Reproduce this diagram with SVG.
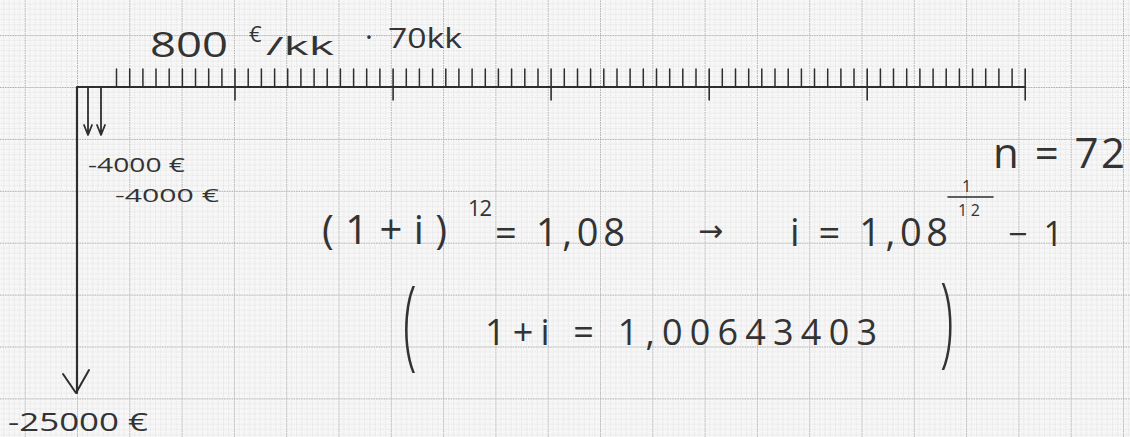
<svg xmlns="http://www.w3.org/2000/svg" width="1130" height="437" viewBox="0 0 1130 437">
  <defs>
    <pattern id="grid" patternUnits="userSpaceOnUse" x="24.7" y="35.1" width="52.3" height="51.9">
      <path d="M5.23 0V51.9M10.46 0V51.9M15.69 0V51.9M20.92 0V51.9M26.15 0V51.9M31.38 0V51.9M36.61 0V51.9M41.84 0V51.9M47.07 0V51.9M0 5.19H52.3M0 10.38H52.3M0 15.57H52.3M0 20.76H52.3M0 25.95H52.3M0 31.14H52.3M0 36.33H52.3M0 41.52H52.3M0 46.71H52.3" stroke="#d4d4d4" stroke-width="0.7" stroke-dasharray="1.2 1.4" fill="none"/>
      <path d="M0.4 0V51.9M0 0.4H52.3" stroke="#a8a8a8" stroke-width="1" stroke-dasharray="1.5 1" fill="none"/>
    </pattern>
  </defs>
  <style>
    .ink { stroke: #2e2e2e; fill: none; stroke-linecap: round; stroke-linejoin: round; }
    .hw { font-family: "Open Sans", "DejaVu Sans", sans-serif; fill: #333; font-weight: 400; }
    .paren { font-family: "Open Sans", "DejaVu Sans", sans-serif; font-weight: 300; fill: #333; }
  </style>
  <rect width="1130" height="437" fill="#f7f7f7"/>
  <rect width="1130" height="437" fill="url(#grid)"/>

  <g id="timeline">
    <path class="ink" stroke-width="2.2" d="M77 87H1025M77 87V393"/>
    <path class="ink" stroke-width="2" d="M63 374L76 393L89 370"/>
    <path class="ink" stroke-width="1.5" d="M116.5 69V86M129.7 69V86M142.9 69V86M156 69V86M169.2 69V86M182.4 69V86M195.5 69V86M208.7 69V86M221.9 69V86M248.2 69V86M261.4 69V86M274.6 69V86M287.7 69V86M300.9 69V86M314.1 69V86M327.2 69V86M340.4 69V86M353.6 69V86M366.7 69V86M379.9 69V86M406.3 69V86M419.4 69V86M432.6 69V86M445.8 69V86M458.9 69V86M472.1 69V86M485.3 69V86M498.4 69V86M511.6 69V86M524.8 69V86M538 69V86M564.3 69V86M577.5 69V86M590.6 69V86M603.8 69V86M617 69V86M630.1 69V86M643.3 69V86M656.5 69V86M669.7 69V86M682.8 69V86M696 69V86M722.3 69V86M735.5 69V86M748.7 69V86M761.8 69V86M775 69V86M788.2 69V86M801.4 69V86M814.5 69V86M827.7 69V86M840.9 69V86M854 69V86M880.4 69V86M893.5 69V86M906.7 69V86M919.9 69V86M933.1 69V86M946.2 69V86M959.4 69V86M972.6 69V86M985.7 69V86M998.9 69V86M1012.1 69V86"/>
    <path class="ink" stroke-width="1.6" d="M235 69V100M393.1 69V100M551.1 69V100M709.2 69V100M867.2 69V100M1025.2 69V100"/>
  </g>

  <g id="payments">
    <path class="ink" stroke-width="1.8" d="M88 87V134M84 125L88 135L92 125M101 87V134M97 125L101 135L105 125"/>
  </g>

  <g id="labels">
    <text class="hw" x="150" y="57" font-size="34" textLength="78" lengthAdjust="spacingAndGlyphs">800</text>
    <text class="hw" x="249" y="42" font-size="22">€</text>
    <text class="hw" x="266" y="55" font-size="26" textLength="68" lengthAdjust="spacingAndGlyphs">/kk</text>
    <text class="hw" x="365" y="47" font-size="30">·</text>
    <text class="hw" x="388" y="48" font-size="28" textLength="74" lengthAdjust="spacingAndGlyphs">70kk</text>

    <text class="hw" x="88" y="172" font-size="20" textLength="97" lengthAdjust="spacingAndGlyphs">-4000 €</text>
    <text class="hw" x="115" y="202" font-size="19" textLength="104" lengthAdjust="spacingAndGlyphs">-4000 €</text>
    <text class="hw" x="8" y="431" font-size="26" textLength="140" lengthAdjust="spacingAndGlyphs">-25000 €</text>

    <text class="hw" x="993" y="168" font-size="42" textLength="132" lengthAdjust="spacing">n = 72</text>

    <text class="hw" x="322" y="244" font-size="40" textLength="125" lengthAdjust="spacing">(1+i)</text>
    <text class="hw" x="468" y="216" font-size="22" textLength="24" lengthAdjust="spacing">12</text>
    <text class="hw" x="495" y="246" font-size="38" textLength="130" lengthAdjust="spacing">= 1,08</text>
    <text class="hw" x="698" y="241" font-size="30">→</text>
    <text class="hw" x="790" y="246" font-size="38" textLength="158" lengthAdjust="spacing">i = 1,08</text>
    <text class="hw" x="962" y="192" font-size="16">1</text>
    <path class="ink" stroke-width="1.6" d="M948 197H993"/>
    <text class="hw" x="958" y="216" font-size="16" textLength="22" lengthAdjust="spacing">12</text>
    <text class="hw" x="1008" y="246" font-size="34" textLength="55" lengthAdjust="spacing">− 1</text>

    <text class="paren" font-size="100" transform="translate(403 357) scale(0.5 1)">(</text>
    <text class="hw" x="485" y="345" font-size="36" textLength="392" lengthAdjust="spacing">1+i = 1,00643403</text>
    <text class="paren" font-size="100" transform="translate(940 354) scale(0.5 1)">)</text>
  </g>
</svg>
